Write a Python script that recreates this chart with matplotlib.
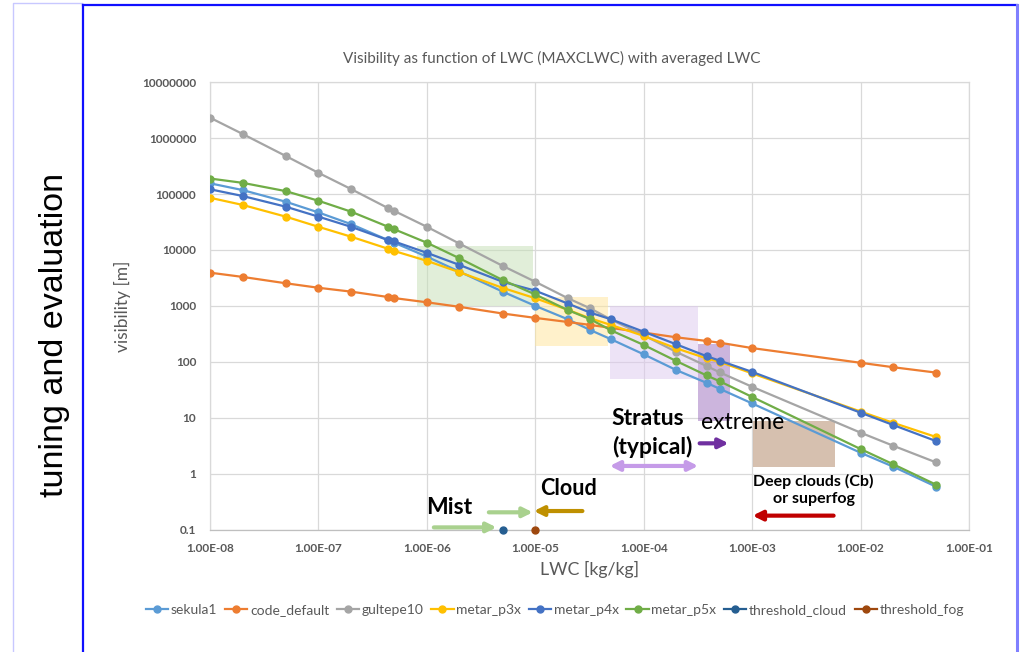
import matplotlib
matplotlib.use('Agg')
import matplotlib.pyplot as plt
from matplotlib.lines import Line2D
from matplotlib.patches import Rectangle

# ---------------- data ----------------
lwc = [1e-8, 2e-8, 5e-8, 1e-7, 2e-7, 4.4e-7, 5e-7, 1e-6, 2e-6, 5e-6, 1e-5, 2e-5,
       3.2e-5, 5e-5, 1e-4, 2e-4, 3.8e-4, 5e-4, 1e-3, 1e-2, 2e-2, 5e-2]
sekula1 = [1.56e5, 1.18e5, 7.3e4, 4.7e4, 2.9e4, 1.5e4, 1.35e4, 7.6e3, 4.1e3, 1.8e3, 1.0e3, 575,
           371, 253, 136, 71, 42, 33, 18, 2.36, 1.33, 0.58]
code_default = [3930, 3300, 2540, 2110, 1800, 1440, 1380, 1160, 962, 731, 610, 515,
                457, 404, 333, 274, 236, 220, 176, 96, 80, 64]
gultepe10 = [2.33e6, 1.19e6, 4.8e5, 2.4e5, 1.23e5, 5.6e4, 5.0e4, 2.6e4, 1.3e4, 5.2e3, 2.7e3, 1.37e3,
             906, 570, 298, 150, 84, 65, 35.7, 5.4, 3.15, 1.58]
metar_p3x = [8.6e4, 6.4e4, 3.95e4, 2.6e4, 1.73e4, 1.05e4, 9.6e3, 6.4e3, 4.0e3, 2.1e3, 1.37e3, 850,
             600, 455, 290, 174, 115, 100, 62, 12.9, 8.1, 4.5]
metar_p4x = [1.22e5, 9.25e4, 5.95e4, 3.95e4, 2.6e4, 1.5e4, 1.42e4, 8.9e3, 5.4e3, 2.7e3, 1.87e3, 1.1e3,
             760, 575, 345, 205, 126, 105, 66, 12.3, 7.4, 3.8]
metar_p5x = [1.9e5, 1.59e5, 1.13e5, 7.6e4, 4.85e4, 2.6e4, 2.35e4, 1.35e4, 7.1e3, 2.9e3, 1.6e3, 840,
             580, 365, 200, 103, 57, 45, 23.5, 2.75, 1.47, 0.63]
threshold_cloud_x = [5e-6]
threshold_cloud_y = [0.1]
threshold_fog_x = [1e-5]
threshold_fog_y = [0.1]

series_names = ['sekula1', 'code_default', 'gultepe10', 'metar_p3x', 'metar_p4x', 'metar_p5x']
series_values = [sekula1, code_default, gultepe10, metar_p3x, metar_p4x, metar_p5x]
series_colors = ['#5B9BD5', '#ED7D31', '#A5A5A5', '#FFC000', '#4472C4', '#70AD47']

x_ticks = [1e-8, 1e-7, 1e-6, 1e-5, 1e-4, 1e-3, 1e-2, 1e-1]
x_ticklabels = ['1.00E-08', '1.00E-07', '1.00E-06', '1.00E-05', '1.00E-04', '1.00E-03', '1.00E-02', '1.00E-01']
y_ticks = [0.1, 1, 10, 100, 1000, 10000, 100000, 1000000, 10000000]
y_ticklabels = ['0.1', '1', '10', '100', '1000', '10000', '100000', '1000000', '10000000']

# highlighted regions: (x0, x1, y0, y1, colour)
regions = [
    (8.1e-7, 9.6e-6, 1000, 11700, '#C5DFB5'),
    (1.0e-5, 4.65e-5, 192, 1430, '#FFE599'),
    (4.86e-5, 3.2e-4, 50, 1000, '#DDC9EF'),
    (3.2e-4, 6.2e-4, 8.9, 204, '#9B6DBD'),
    (1.02e-3, 5.8e-3, 1.3, 8.9, '#AF8361'),
]

GREY = '#595959'
FONT = 'Lato'

fig = plt.figure(figsize=(10.23, 6.52), dpi=100)
fig.patch.set_facecolor('white')
ax = fig.add_axes([210 / 1023, 1 - 529.5 / 652, (969 - 210) / 1023, (529.5 - 82.3) / 652])

for name, vals, col in zip(series_names, series_values, series_colors):
    ax.plot(lwc, vals, color=col, lw=1.6, marker='o', ms=5, label=name, zorder=3)
ax.plot(threshold_cloud_x, threshold_cloud_y, color='#255E91', lw=1.6, marker='o', ms=5,
        label='threshold_cloud', zorder=4, clip_on=False)
ax.plot(threshold_fog_x, threshold_fog_y, color='#9E480E', lw=1.6, marker='o', ms=5,
        label='threshold_fog', zorder=4, clip_on=False)

for x0, x1, y0, y1, c in regions:
    ax.add_patch(Rectangle((x0, y0), x1 - x0, y1 - y0, facecolor=c, edgecolor='none',
                           alpha=0.5, zorder=2))

ax.set_xscale('log')
ax.set_yscale('log')
ax.set_xlim(1e-8, 1e-1)
ax.set_ylim(0.1, 1e7)
ax.set_xticks(x_ticks)
ax.set_xticklabels(x_ticklabels)
ax.set_yticks(y_ticks)
ax.set_yticklabels(y_ticklabels)
ax.minorticks_off()
ax.tick_params(length=0, colors=GREY, labelsize=8.5, pad=10)
for lab in ax.get_xticklabels() + ax.get_yticklabels():
    lab.set_fontweight('bold')
    lab.set_family(FONT)
ax.grid(True, color='#D9D9D9', lw=0.9, zorder=0)
ax.set_axisbelow(True)
for s in ['left', 'top', 'right']:
    ax.spines[s].set_color('#D9D9D9')
    ax.spines[s].set_linewidth(0.9)
ax.spines['bottom'].set_color('#BFBFBF')
ax.spines['bottom'].set_linewidth(0.9)

ax.set_xlabel('LWC [kg/kg]', fontsize=12.8, color=GREY, family=FONT, labelpad=5)
ax.set_ylabel('visibility [m]', fontsize=12.5, color=GREY, family=FONT, labelpad=8)

fig.text(552 / 1023, 1 - 58 / 652, 'Visibility as function of LWC (MAXCLWC) with averaged LWC',
         ha='center', va='center', fontsize=11, color=GREY, family=FONT)

# annotations
def arrow(x0, x1, y, col, style='-|>'):
    ax.annotate('', xy=(x1, y), xytext=(x0, y), xycoords='data',
                arrowprops=dict(arrowstyle=style, color=col, lw=3, mutation_scale=14,
                                shrinkA=0, shrinkB=0),
                annotation_clip=False, zorder=5)

arrow(4.86e-5, 3.18e-4, 1.37, '#C59BE8', style='<|-|>')
arrow(3.28e-4, 6.07e-4, 3.48, '#7030A0')
arrow(3.73e-6, 9.48e-6, 0.203, '#A9D18E')
arrow(2.72e-5, 9.7e-6, 0.214, '#BF9000')
arrow(1.16e-6, 4.39e-6, 0.109, '#A9D18E')
arrow(5.64e-3, 1.01e-3, 0.177, '#C00000')

tkw = dict(family=FONT, color='black', va='baseline', zorder=6, clip_on=False)
ax.text(5.07e-5, 7.4, 'Stratus', fontsize=16.5, fontweight='bold', ha='left', **tkw)
ax.text(5.07e-5, 2.24, '(typical)', fontsize=16.5, fontweight='bold', ha='left', **tkw)
ax.text(3.4e-4, 6.2, 'extreme', fontsize=16.5, ha='left', **tkw)
ax.text(1.1e-5, 0.414, 'Cloud', fontsize=15.5, fontweight='bold', ha='left', **tkw)
ax.text(9.94e-7, 0.187, 'Mist', fontsize=16.5, fontweight='bold', ha='left', **tkw)
ax.text(3.69e-3, 0.6, 'Deep clouds (Cb)', fontsize=11.5, fontweight='bold', ha='center', **tkw)
ax.text(3.69e-3, 0.298, 'or superfog', fontsize=11.5, fontweight='bold', ha='center', **tkw)

leg = fig.legend(loc='center', bbox_to_anchor=(555 / 1023, 1 - 610 / 652), ncol=8, frameon=False,
                 handlelength=1.6, handletextpad=0.2, columnspacing=0.55,
                 prop={'family': FONT, 'size': 10})
for t in leg.get_texts():
    t.set_color(GREY)

# slide decoration
fig.text(55 / 1023, 1 - 335 / 652, 'tuning and evaluation', rotation=90, ha='center', va='center',
         fontsize=24.5, family='Liberation Sans', color='black')
fig.add_artist(Line2D([12.7 / 1023, 12.7 / 1023, 82 / 1023], [0, 1 - 3.3 / 652, 1 - 3.3 / 652],
                      transform=fig.transFigure, color='#C8C8FF', lw=1))
fig.add_artist(Line2D([82.5 / 1023, 82.5 / 1023], [0, 1 - 4.7 / 652], transform=fig.transFigure,
                      color='#1010FF', lw=1.6))
fig.add_artist(Line2D([82.5 / 1023, 1016.7 / 1023], [1 - 4.7 / 652, 1 - 4.7 / 652],
                      transform=fig.transFigure, color='#1010FF', lw=1.6))
fig.add_artist(Line2D([1017 / 1023, 1017 / 1023], [0, 1 - 4.7 / 652], transform=fig.transFigure,
                      color='#8080FF', lw=2.2))

fig.savefig('out.png', dpi=100)
